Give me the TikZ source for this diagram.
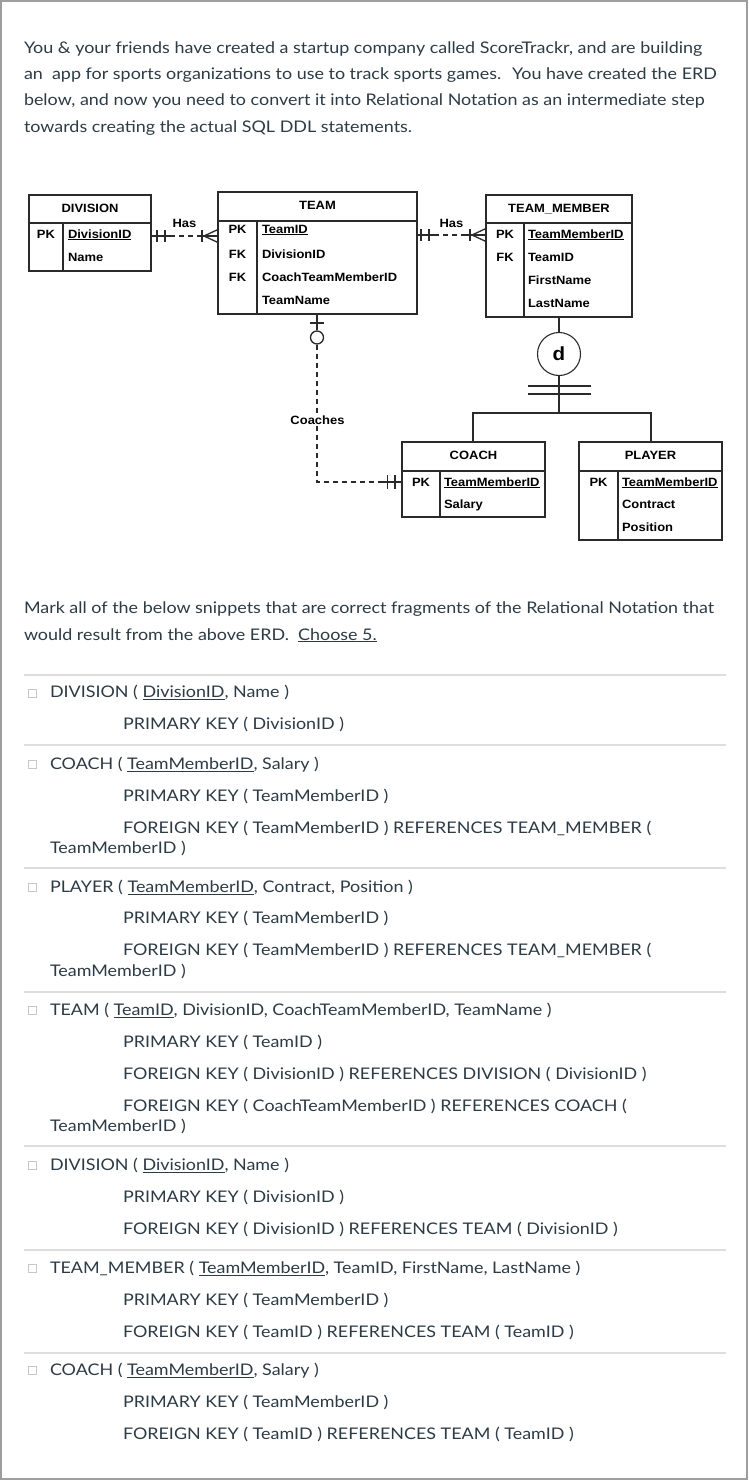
\documentclass[tikz,border=0pt]{standalone}
\usepackage{fontspec}
\setmainfont{Lato}[FakeStretch=1.12]
\newfontfamily\erd{Liberation Sans}[FakeStretch=1.08]
\usetikzlibrary{calc}
\definecolor{qtxt}{HTML}{2D3B45}
\definecolor{erdline}{HTML}{2A2A2A}
\definecolor{sepgray}{HTML}{DDDDDD}
\definecolor{framegray}{HTML}{9E9E9E}
\definecolor{cbgray}{HTML}{C8C8C8}
\begin{document}
\begin{tikzpicture}[x=1pt,y=-1pt,
  q/.style={anchor=base west, inner sep=0, outer sep=0, font=\fontsize{16}{19}\selectfont, text=qtxt},
  et/.style={anchor=base west, inner sep=0, outer sep=0, font=\erd\bfseries\fontsize{12}{14}\selectfont, text=black},
  ec/.style={anchor=base, inner sep=0, outer sep=0, font=\erd\bfseries\fontsize{12}{14}\selectfont, text=black},
  ebox/.style={draw=erdline, line width=1.3pt, inner sep=0, outer sep=0, anchor=north west},
  rl/.style={draw=erdline, line width=1.3pt},
  rd/.style={rl, dash pattern=on 5pt off 4pt},
  sepl/.style={draw=sepgray, line width=1.5pt},
  cb/.style={draw=cbgray, line width=0.8pt, minimum size=8pt, inner sep=0, outer sep=0},
]
\useasboundingbox (0,0) rectangle (748,1480);
\fill[white] (0,0) rectangle (748,1480);
\draw[draw=framegray, line width=2pt] (1,1) rectangle (747,1479);

% ---------- intro text ----------
\node[q] (p1) at (24,53) {You \& your friends have created a startup company called ScoreTrackr, and are building};
\node[q] (p2) at (24,79.5) {an~ app for sports organizations to use to track sports games.~ You have created the ERD};
\node[q] (p3) at (24,105.5) {below, and now you need to convert it into Relational Notation as an intermediate step};
\node[q] (p4) at (24,132) {towards creating the actual SQL DDL statements.};

% ---------- ERD entities ----------
% DIVISION
\node[ebox, minimum width=122pt, minimum height=76pt] (div) at (29,195) {};
\draw[rl] (29,223) -- (151,223);
\draw[rl] (63,223) -- (63,271);
\node[ec] (divh) at (90,212) {DIVISION};
\node[ec] (divpk) at (46,238) {PK};
\node[et] (divid) at (68,238) {\underline{DivisionID}};
\node[et] (divnm) at (68,261) {Name};

% TEAM
\node[ebox, minimum width=199pt, minimum height=122pt] (team) at (218,192) {};
\draw[rl] (218,221) -- (417,221);
\draw[rl] (257,221) -- (257,314);
\node[ec] (teamh) at (317.5,209) {TEAM};
\node[ec] (teampk) at (237.5,233) {PK};
\node[ec] (teamfk1) at (237.5,258) {FK};
\node[ec] (teamfk2) at (237.5,281) {FK};
\node[et] (teamid) at (262,233) {\underline{TeamID}};
\node[et] (teamdiv) at (262,258) {DivisionID};
\node[et] (teamcoach) at (262,281) {CoachTeamMemberID};
\node[et] (teamname) at (262,304) {TeamName};

% TEAM_MEMBER
\node[ebox, minimum width=146pt, minimum height=122pt] (tm) at (486,195) {};
\draw[rl] (486,223) -- (632,223);
\draw[rl] (524,223) -- (524,317);
\node[ec] (tmh) at (559,212) {TEAM\_MEMBER};
\node[ec] (tmpk) at (505,238) {PK};
\node[ec] (tmfk) at (505,261) {FK};
\node[et] (tmid) at (528,238) {\underline{TeamMemberID}};
\node[et] (tmteam) at (528,261) {TeamID};
\node[et] (tmfirst) at (528,284.5) {FirstName};
\node[et] (tmlast) at (528,307) {LastName};

% COACH
\node[ebox, minimum width=143pt, minimum height=75pt] (coach) at (402,442) {};
\draw[rl] (402,471) -- (545,471);
\draw[rl] (440,471) -- (440,517);
\node[ec] (coachh) at (473.5,459) {COACH};
\node[ec] (coachpk) at (421,486) {PK};
\node[et] (coachid) at (444,486) {\underline{TeamMemberID}};
\node[et] (coachsal) at (444,508) {Salary};

% PLAYER
\node[ebox, minimum width=143pt, minimum height=98pt] (player) at (579,442) {};
\draw[rl] (579,471) -- (722,471);
\draw[rl] (618,471) -- (618,540);
\node[ec] (playerh) at (650.5,459) {PLAYER};
\node[ec] (playerpk) at (598.5,486) {PK};
\node[et] (playerid) at (622,486) {\underline{TeamMemberID}};
\node[et] (playercon) at (622,508) {Contract};
\node[et] (playerpos) at (622,531) {Position};

% ---------- relationships ----------
% DIVISION -- TEAM  (Has)
\draw[rl] (div.east |- 0,236) -- (170,236);
\draw[rd] (170,236) -- (198,236);
\draw[rl] (198,236) -- (team.west |- 0,236);
\draw[rl] (157,230) -- (157,242) (165,230) -- (165,242);
\draw[rl] (202,230) -- (202,242);
\draw[rl] (218,229.5) -- (204,236) -- (218,242.5);
\node[ec] (has1) at (184.5,227.5) {Has};

% TEAM -- TEAM_MEMBER (Has)
\draw[rl] (team.east |- 0,235) -- (434,235);
\draw[rd] (434,235) -- (466,235);
\draw[rl] (466,235) -- (tm.west |- 0,235);
\draw[rl] (421,229) -- (421,241) (429,229) -- (429,241);
\draw[rl] (470,229) -- (470,241);
\draw[rl] (486,228.5) -- (472,235) -- (486,241.5);
\node[ec] (has2) at (451.5,227.5) {Has};

% TEAM -- COACH (Coaches)
\coordinate (ccorner) at (317,482);
\node[draw=erdline, line width=1.3pt, circle, minimum size=13pt, inner sep=0] (zc) at (317,337.5) {};
\draw[rl] (team.south -| 317,0) -- (zc.north);
\draw[rl] (310,323) -- (324,323);
\draw[rd] (zc.south) -- (ccorner) -- (380,482);
\draw[rl] (380,482) -- (coach.west |- 0,482);
\draw[rl] (387.5,475) -- (387.5,489) (395,475) -- (395,489);
\node[ec, fill=white, inner sep=1pt] (coaches) at (317.5,424) {Coaches};

% Disjoint subtype
\node[draw=erdline, line width=1.1pt, circle, minimum size=43pt, inner sep=0] (dc) at (559,354) {};
\node[anchor=base, inner sep=0, font=\erd\bfseries\fontsize{19}{22}\selectfont] (dtxt) at (559,360.5) {d};
\draw[rl, line width=1.1pt] (tm.south -| 559,0) -- (dc.north);
\coordinate (split) at (559,413);
\draw[rl, line width=1.1pt] (dc.south) -- (split);
\draw[rl, line width=1.1pt] (528,386) -- (591,386) (528,394) -- (591,394);
\draw[rl, line width=1.1pt] (coach.north -| 473,0) -- (473,413) -- (651,413) -- (player.north -| 651,0);

% ---------- question ----------
\node[q] (m1) at (24,613) {Mark all of the below snippets that are correct fragments of the Relational Notation that};
\node[q] (m2) at (24,640) {would result from the above ERD.~ \underline{Choose 5.}};

\foreach \yy in {675,745,868,992,1146,1250,1353} \draw[sepl] (24,\yy) -- (726,\yy);

\foreach \yy/\nm in {693/c1,764/c2,887/c3,1010/c4,1165/c5,1268/c6,1370/c7}
  \node[cb] (\nm) at (32,\yy) {};

\node[q] (a1) at (50,697.5) {DIVISION ( \underline{DivisionID}, Name )};
\node[q] (a2) at (123,729.5) {PRIMARY KEY ( DivisionID )};

\node[q] (b1) at (50,769.5) {COACH ( \underline{TeamMemberID}, Salary )};
\node[q] (b2) at (123,801.5) {PRIMARY KEY ( TeamMemberID )};
\node[q] (b3) at (123,833.5) {FOREIGN KEY ( TeamMemberID ) REFERENCES TEAM\_MEMBER (};
\node[q] (b4) at (50,853.5) {TeamMemberID )};

\node[q] (e1) at (50,892.5) {PLAYER ( \underline{TeamMemberID}, Contract, Position )};
\node[q] (e2) at (123,923.5) {PRIMARY KEY ( TeamMemberID )};
\node[q] (e3) at (123,955.5) {FOREIGN KEY ( TeamMemberID ) REFERENCES TEAM\_MEMBER (};
\node[q] (e4) at (50,976.5) {TeamMemberID )};

\node[q] (f1) at (50,1015.5) {TEAM ( \underline{TeamID}, DivisionID, CoachTeamMemberID, TeamName )};
\node[q] (f2) at (123,1047.5) {PRIMARY KEY ( TeamID )};
\node[q] (f3) at (123,1079.5) {FOREIGN KEY ( DivisionID ) REFERENCES DIVISION ( DivisionID )};
\node[q] (f4) at (123,1111.5) {FOREIGN KEY ( CoachTeamMemberID ) REFERENCES COACH (};
\node[q] (f5) at (50,1131.5) {TeamMemberID )};

\node[q] (g1) at (50,1170.5) {DIVISION ( \underline{DivisionID}, Name )};
\node[q] (g2) at (123,1202.5) {PRIMARY KEY ( DivisionID )};
\node[q] (g3) at (123,1234.5) {FOREIGN KEY ( DivisionID ) REFERENCES TEAM ( DivisionID )};

\node[q] (h1) at (50,1273.5) {TEAM\_MEMBER ( \underline{TeamMemberID}, TeamID, FirstName, LastName )};
\node[q] (h2) at (123,1305.5) {PRIMARY KEY ( TeamMemberID )};
\node[q] (h3) at (123,1337.5) {FOREIGN KEY ( TeamID ) REFERENCES TEAM ( TeamID )};

\node[q] (k1) at (50,1375.5) {COACH ( \underline{TeamMemberID}, Salary )};
\node[q] (k2) at (123,1407.5) {PRIMARY KEY ( TeamMemberID )};
\node[q] (k3) at (123,1439.5) {FOREIGN KEY ( TeamID ) REFERENCES TEAM ( TeamID )};
\end{tikzpicture}
\end{document}
